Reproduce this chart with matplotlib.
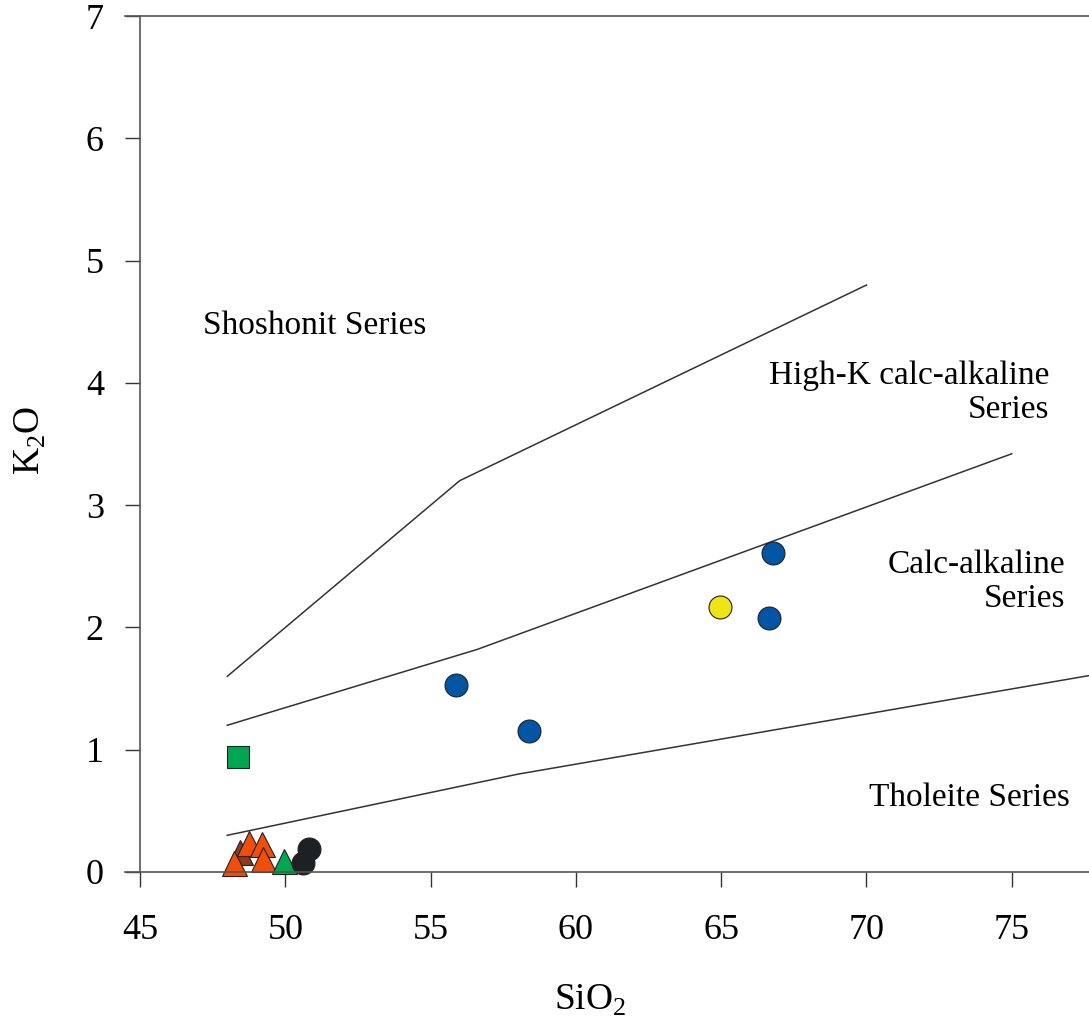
import matplotlib.pyplot as plt
import numpy as np

plt.rcParams['font.family'] = 'Liberation Serif'
plt.rcParams['mathtext.fontset'] = 'custom'
plt.rcParams['mathtext.rm'] = 'Liberation Serif'

# boundary lines (SiO2, K2O)
sho_x = [48, 56, 70]
sho_y = [1.6, 3.2, 4.8]
hk_x = [48, 56.6, 75]
hk_y = [1.2, 1.82, 3.42]
th_x = [48, 58, 78]
th_y = [0.3, 0.8, 1.62]

# samples
blue_x = [55.87, 58.39, 66.78, 66.64]
blue_y = [1.53, 1.15, 2.61, 2.08]
yellow_x = [64.96]
yellow_y = [2.17]
sq_x = [48.37]
sq_y = [0.94]
brown_x = [48.44]
brown_y = [0.16]
orange_x = [48.23, 48.76, 49.18, 49.22]
orange_y = [0.07, 0.24, 0.23, 0.11]
gtri_x = [49.96]
gtri_y = [0.09]
black_x = [50.82, 50.59]
black_y = [0.185, 0.07]

xticks = [45, 50, 55, 60, 65, 70, 75]
yticks = [0, 1, 2, 3, 4, 5, 6, 7]

fig = plt.figure(figsize=(10.89, 10.16), dpi=100)
ax = fig.add_axes([125/1089, 144/1016, 964/1089, 856/1016])

lc = '#333333'
ax.plot(sho_x, sho_y, color=lc, lw=1.1)
ax.plot(hk_x, hk_y, color=lc, lw=1.1)
ax.plot(th_x, th_y, color=lc, lw=1.1)

ek = dict(markeredgecolor='#222222', markeredgewidth=0.8, linestyle='none', clip_on=False)
ax.plot(sq_x, sq_y, 's', color='#00A651', markersize=16, **ek)
ax.plot(brown_x, brown_y, '^', color='#8B3A1E', markersize=18, **ek)
ax.plot(orange_x, orange_y, '^', color='#F04E0A', markersize=18, **ek)
ax.plot(gtri_x, gtri_y, '^', color='#00A651', markersize=18, **ek)
ax.plot(black_x, black_y, 'o', color='#1E2124', markersize=16.5, **ek)
ax.plot(blue_x, blue_y, 'o', color='#0055A5', markersize=16.5, **ek)
ax.plot(yellow_x, yellow_y, 'o', color='#EEE614', markersize=16.5, **ek)

fs = 24
ax.text(47.17, 4.47, 'Shoshonit Series', fontsize=fs, va='center', ha='left')
ax.text(76.28, 3.92, 'High-K calc-alkaline\nSeries', fontsize=fs, va='center',
        ha='right', multialignment='right', linespacing=1.15)
ax.text(76.83, 2.37, 'Calc-alkaline\nSeries', fontsize=fs, va='center',
        ha='right', multialignment='right', linespacing=1.15)
ax.text(77.0, 0.61, 'Tholeite Series', fontsize=fs, va='center', ha='right')

ax.set_xlim(44.48, 77.66)
ax.set_ylim(0, 7)
ax.spines['right'].set_visible(False)
ax.spines['left'].set_position(('data', 45))
for s in ['left', 'bottom', 'top']:
    ax.spines[s].set_color('#555555')
    ax.spines[s].set_linewidth(1.2)
ax.set_xticks(xticks)
ax.set_yticks(yticks)
ax.tick_params(axis='x', direction='out', length=11, width=1, color='#333333',
               labelsize=26, pad=19)
ax.tick_params(axis='y', direction='out', length=11, width=1, color='#333333',
               labelsize=26, pad=15)

fig.text(590/1089, 1 - 1000/1016, r'SiO$_\mathrm{2}$', fontsize=27, ha='center', va='center')
fig.text(30/1089, 1 - 440/1016, r'K$_\mathrm{2}$O', fontsize=27, ha='center', va='center',
         rotation=90)

fig.savefig('out.png', dpi=100)
